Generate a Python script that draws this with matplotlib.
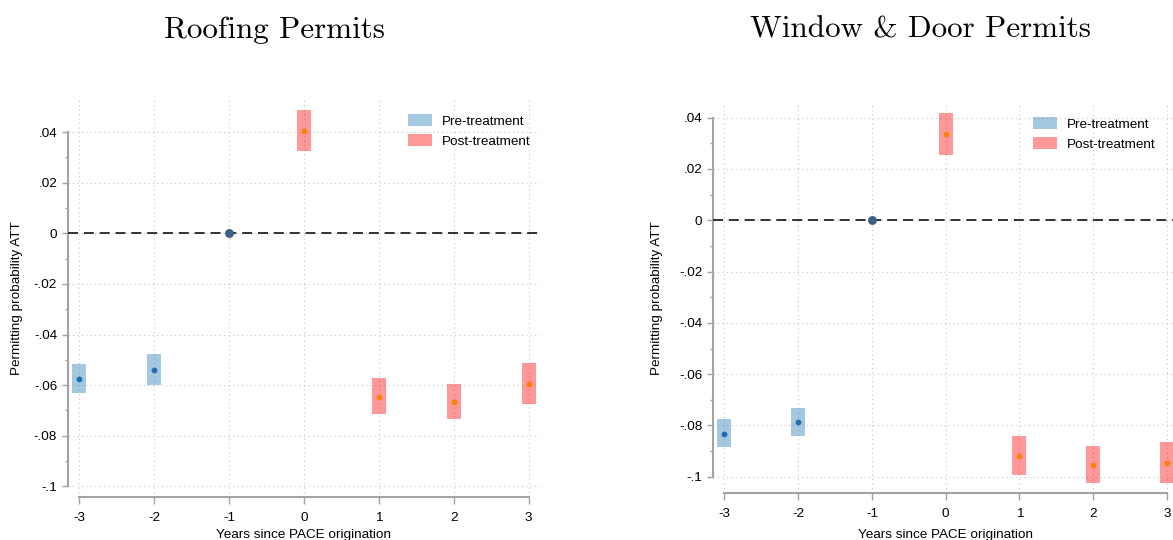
import numpy as np
import matplotlib
matplotlib.use('Agg')
import matplotlib.pyplot as plt
from matplotlib.patches import Patch

plt.rcParams['font.family'] = ['Liberation Sans', 'DejaVu Sans']

# event-study estimates
years = [-3, -2, -1, 0, 1, 2, 3]
roof_att = [-0.0574, -0.0539, 0.0, 0.0404, -0.0645, -0.0665, -0.0594]
roof_lo = [-0.0632, -0.0598, np.nan, 0.0325, -0.0715, -0.0733, -0.0674]
roof_hi = [-0.0516, -0.0477, np.nan, 0.0487, -0.0573, -0.0595, -0.0511]
win_att = [-0.0832, -0.0787, 0.0, 0.0335, -0.0918, -0.0953, -0.0945]
win_lo = [-0.0885, -0.0842, np.nan, 0.0253, -0.0992, -0.1025, -0.1025]
win_hi = [-0.0776, -0.0731, np.nan, 0.0417, -0.0842, -0.0880, -0.0865]

yticks = [0.04, 0.02, 0.0, -0.02, -0.04, -0.06, -0.08, -0.1]
ytick_labels = ['.04', '.02', '0', '-.02', '-.04', '-.06', '-.08', '-.1']
titles = ['Roofing Permits', 'Window & Door Permits']

pre_col = (0.122, 0.467, 0.706, 0.4)
post_col = (1.0, 0.0, 0.0, 0.4)
ref_col = '#3b6082'
axis_col = '#a3a3a3'
fs = 9.7

W, H = 1173, 540
fig = plt.figure(figsize=(W / 100, H / 100), dpi=100)


def px_axes(x0, x1, ytop, ybot):
    return fig.add_axes([x0 / W, (H - ybot) / H, (x1 - x0) / W, (ybot - ytop) / H])


def draw_panel(ax, att, lo, hi, ylim, title, title_x, ylab_x, xlab_y, leg_xy):
    x = np.array(years)
    att = np.array(att)
    lo = np.array(lo)
    hi = np.array(hi)
    pre = x < -1
    post = x >= 0
    ax.bar(x[pre], hi[pre] - lo[pre], bottom=lo[pre], width=0.19,
           color=pre_col, linewidth=0, zorder=2)
    ax.bar(x[post], hi[post] - lo[post], bottom=lo[post], width=0.19,
           color=post_col, linewidth=0, zorder=2)
    ax.axhline(0, color='#111111', lw=1.2, ls=(0, (6, 3.5)), zorder=3)
    ax.plot(x[pre], att[pre], 'o', color='#1f6fb2', ms=4.2, mew=0, zorder=4)
    ax.plot(x[post], att[post], 'o', color='#ff7f0e', ms=4.2, mew=0, zorder=4)
    ax.plot(x[x == -1], att[x == -1], 'o', color=ref_col, ms=6.4, mew=0, zorder=5)

    ax.set_xlim(-3.15, 3.15)
    ax.set_ylim(*ylim)
    ax.set_xticks(years)
    ax.set_xticklabels([str(v) for v in years], fontsize=fs)
    ax.set_yticks(yticks)
    ax.set_yticklabels(ytick_labels, fontsize=fs)
    ax.set_yticks(np.arange(-0.09, 0.04, 0.02), minor=True)
    ax.tick_params(axis='y', which='major', length=4.3, width=1, color=axis_col, pad=3.5)
    ax.tick_params(axis='y', which='minor', length=2.2, width=1, color=axis_col)
    ax.tick_params(axis='x', which='major', length=5, width=1, color=axis_col, pad=6)
    ax.grid(True, which='major', ls=(0, (1, 3)), color='#c4c4c4', lw=0.8, zorder=1)

    for s in ['top', 'right']:
        ax.spines[s].set_visible(False)
    ax.spines['left'].set_bounds(-0.1, 0.04)
    ax.spines['bottom'].set_bounds(-3, 3)
    for s in ['left', 'bottom']:
        ax.spines[s].set_color(axis_col)
        ax.spines[s].set_linewidth(1.5)

    ax.set_ylabel('Permitting probability ATT', fontsize=fs)
    ax.yaxis.set_label_coords(ylab_x, 0.5)
    ax.set_xlabel('Years since PACE origination', fontsize=fs)
    ax.xaxis.set_label_coords(0.5, xlab_y)

    handles = [Patch(facecolor=pre_col, label='Pre-treatment'),
               Patch(facecolor=post_col, label='Post-treatment')]
    ax.legend(handles=handles, loc='upper left', bbox_to_anchor=leg_xy,
              bbox_transform=fig.transFigure, frameon=False, fontsize=fs,
              borderpad=0, borderaxespad=0, handlelength=1.78, handleheight=1.05,
              handletextpad=0.72, labelspacing=0.45)

    fig.text(title_x / W, (H - 38) / H, title, family=['cmr10', 'DejaVu Serif'],
             ha='center', va='baseline', fontsize=22.4)


ax1 = px_axes(68, 540, 100, 497)
draw_panel(ax1, roof_att, roof_lo, roof_hi, (-0.1042, 0.0527), titles[0], 275,
           -0.095, -0.081, (407.7 / W, (H - 114) / H))

ax2 = px_axes(713.3, 1178, 103, 492.7)
draw_panel(ax2, win_att, win_lo, win_hi, (-0.1062, 0.0457), titles[1], 920,
           -0.108, -0.093, (1033.3 / W, (H - 117) / H))

fig.savefig('out.png', dpi=100)
